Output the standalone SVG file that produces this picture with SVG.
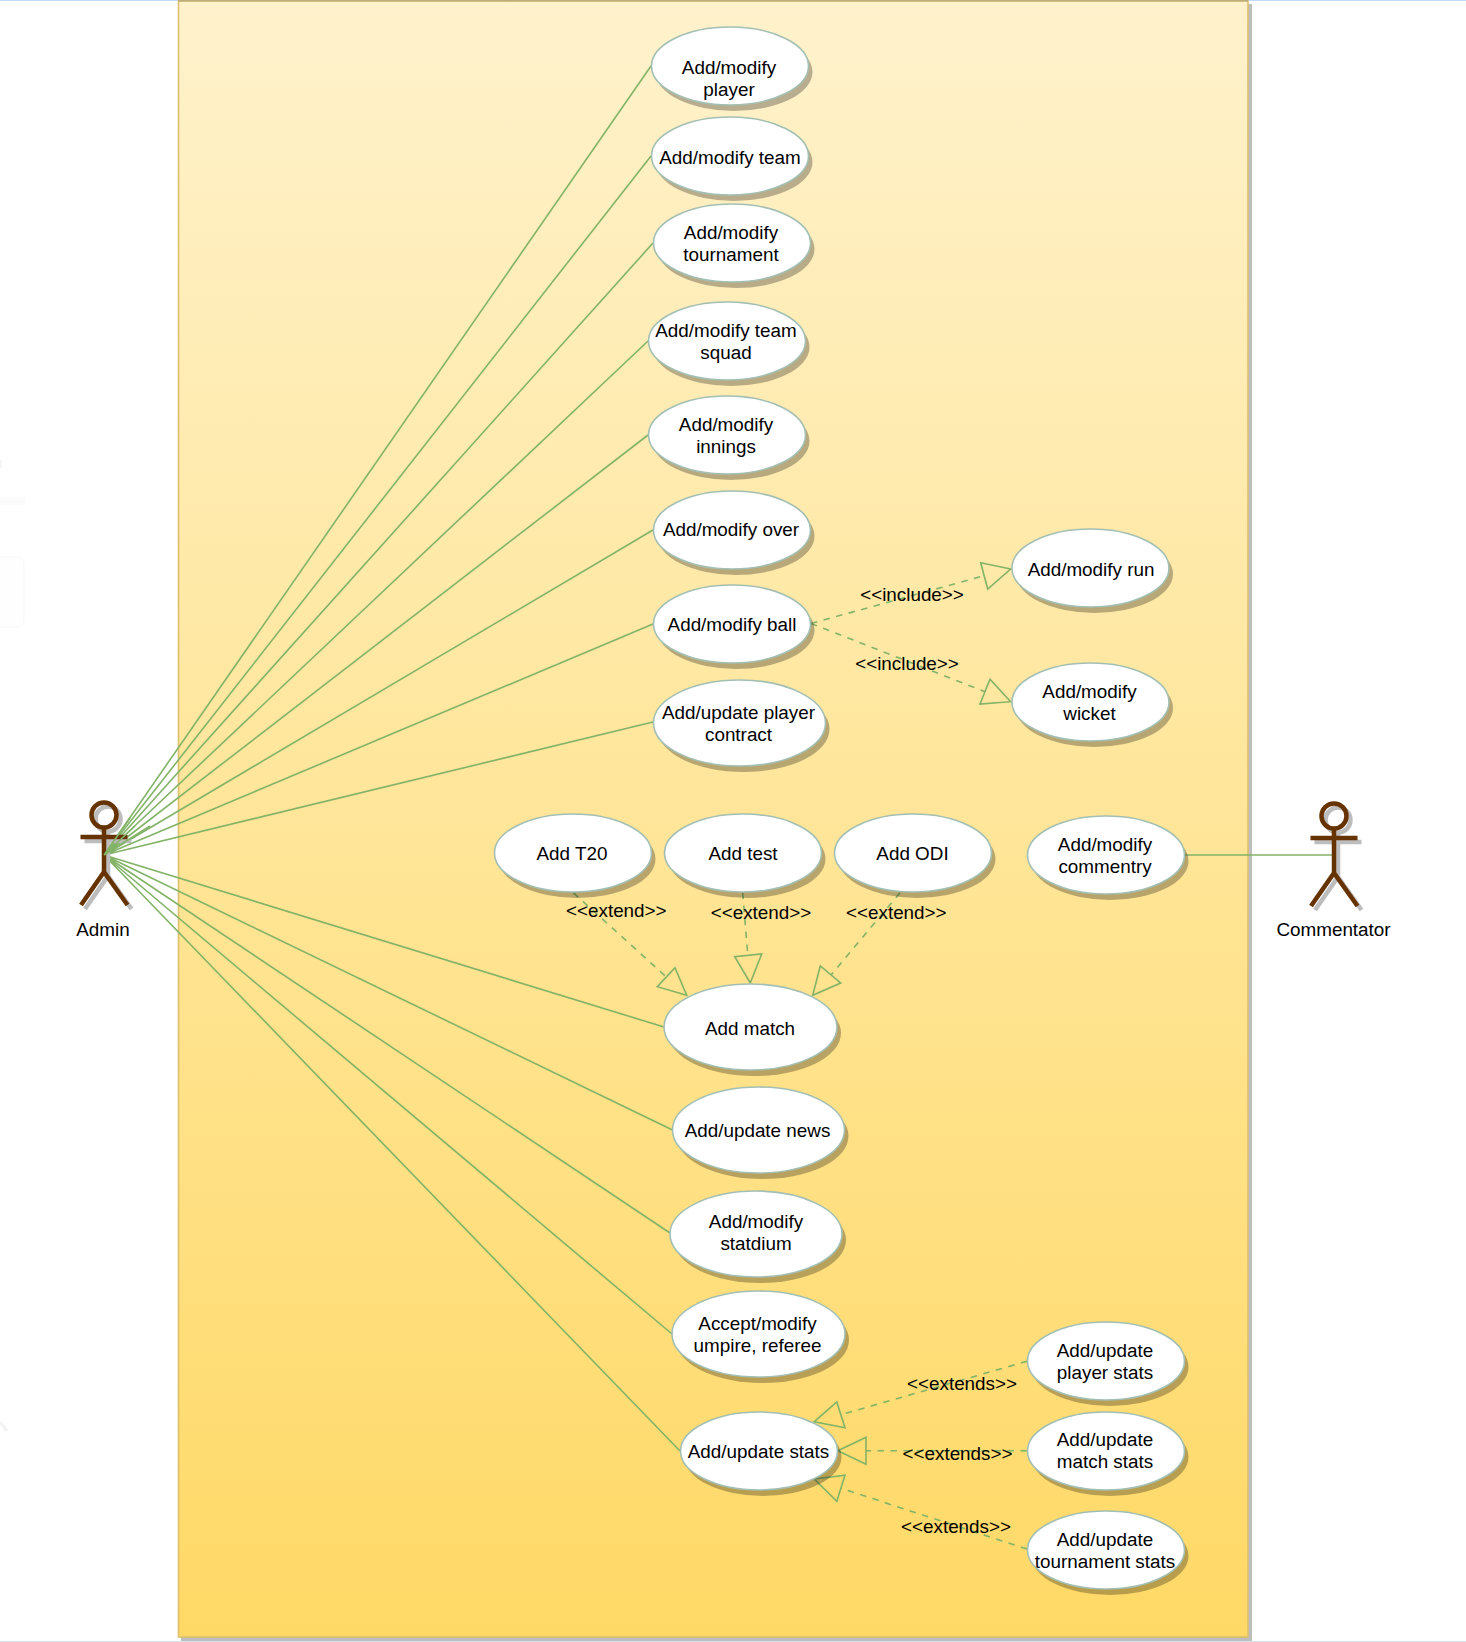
<svg xmlns="http://www.w3.org/2000/svg" width="1466" height="1642" viewBox="0 0 1466 1642">
<defs>
<linearGradient id="panelFill" x1="0" y1="0" x2="0" y2="1"><stop offset="0" stop-color="#fff2cc"/><stop offset="1" stop-color="#ffd966"/></linearGradient>
<g id="actorShape"><circle cx="0" cy="-40" r="12.500"/><path d="M0-27.500V17M-23.500-18H23.500M-23 50L0 17L23.500 50"/></g>
</defs>
<style>
text{font-family:"Liberation Sans",Arial,sans-serif;font-size:18.85px;fill:#000;text-anchor:middle}
.uc{fill:#fff;stroke:#a3bfb3;stroke-width:1.6}
.ucs{fill:#000;fill-opacity:.28}
.solid{fill:none;stroke:#82b366;stroke-width:1.6}
.dash{fill:none;stroke:#82b366;stroke-width:1.6;stroke-dasharray:6.500 6.500}
.tri{fill:none;stroke:#82b366;stroke-width:1.6;stroke-linejoin:miter}
.ash{fill:none;stroke:#bdbdbd;stroke-width:4.500}
.ac{fill:none;stroke:#663300;stroke-width:4.500}
</style>
<rect width="1466" height="1642" fill="#fff"/>
<rect x="0" y="0" width="1466" height="1" fill="#bfdbfe"/>
<rect x="0" y="1641" width="1466" height="1" fill="#d5e3f0"/>
<rect x="-8" y="557" width="32" height="70" rx="6" fill="#fefefe" stroke="#f8f8f8"/>
<rect x="0" y="460" width="2" height="8" fill="#f6f6f6"/>
<rect x="0" y="497" width="25" height="8" fill="#fbfbfb"/>
<path d="M0 1422L7 1431" stroke="#f3f3f3" stroke-width="3" fill="none"/>
<rect id="panelShadow" x="181" y="4" width="1071" height="1637" fill="#bdbdbd"/>
<rect id="panel" x="178.500" y="1" width="1069.500" height="1636" fill="url(#panelFill)" stroke="#dcc06c" stroke-width="1.600"/>
<rect x="178" y="0" width="1070" height="1.500" fill="#bcae7c"/>
<g id="connectors">
<path class="solid" d="M104 855L651 66M104 855L651 156M104 855L653 243M104 855L648 341M104 855L648 435M104 855L653 530M104 855L653 624M104 855L653 722M104 855L664 1027M104 855L672.500 1130M104 855L670 1233M104 855L672 1334M104 855L680 1451M1185 855H1334"/>
<path class="dash" d="M811 623.500L984 575.700M811 623.500L985 691.700M573.300 892.700L666 976.700M742.700 892.700L747.700 954.300M900 892.700L831 975M1027 1361.300L841 1414.700M1027 1450.700H866M1027 1549L841 1488.300"/>
<polygon class="tri" points="1010.700,569 980.700,562.700 987.700,589"/>
<polygon class="tri" points="1010.700,701.700 990,679.300 980,704"/>
<polygon class="tri" points="686.700,995.300 675,967.700 657.300,986.700"/>
<polygon class="tri" points="750.300,983 734.700,956.700 761.700,954"/>
<polygon class="tri" points="812.700,995.300 820.300,966 840.700,983"/>
<polygon class="tri" points="814.300,1421.700 836.800,1402 845,1427.700"/>
<polygon class="tri" points="837.900,1450.700 866,1437.300 866,1464.300"/>
<polygon class="tri" points="814.300,1479 845,1475.300 836.800,1501.300"/>
</g>
<g id="admin"><use href="#actorShape" x="108" y="859" class="ash"/><use href="#actorShape" x="104" y="855" class="ac"/><text x="103" y="936">Admin</text></g>
<g id="commentator"><use href="#actorShape" x="1338" y="860" class="ash"/><use href="#actorShape" x="1334" y="856" class="ac"/><text x="1333.500" y="936">Commentator</text></g>
<path class="solid" d="M104 855L130 818M104 855L135 826M104 855L150 826"/>
<g id="n1"><ellipse class="ucs" cx="734" cy="72" rx="78.500" ry="39"/><ellipse class="uc" cx="730" cy="66" rx="78.500" ry="39"/><text x="729" y="74">Add/modify</text><text x="729" y="96">player</text></g>
<g id="n2"><ellipse class="ucs" cx="734" cy="162" rx="78.500" ry="39"/><ellipse class="uc" cx="730" cy="156" rx="78.500" ry="39"/><text x="730" y="163.500">Add/modify team</text></g>
<g id="n3"><ellipse class="ucs" cx="736" cy="249" rx="78.500" ry="39"/><ellipse class="uc" cx="732" cy="243" rx="78.500" ry="39"/><text x="731" y="239">Add/modify</text><text x="731" y="261">tournament</text></g>
<g id="n4"><ellipse class="ucs" cx="731" cy="347" rx="78.500" ry="39"/><ellipse class="uc" cx="727" cy="341" rx="78.500" ry="39"/><text x="726" y="337">Add/modify team</text><text x="726" y="359">squad</text></g>
<g id="n5"><ellipse class="ucs" cx="731" cy="441" rx="78.500" ry="39"/><ellipse class="uc" cx="727" cy="435" rx="78.500" ry="39"/><text x="726" y="431">Add/modify</text><text x="726" y="453">innings</text></g>
<g id="n6"><ellipse class="ucs" cx="736" cy="536" rx="78.500" ry="39"/><ellipse class="uc" cx="732" cy="530" rx="78.500" ry="39"/><text x="731" y="536">Add/modify over</text></g>
<g id="n7"><ellipse class="ucs" cx="736" cy="630" rx="78.500" ry="39"/><ellipse class="uc" cx="732" cy="624" rx="78.500" ry="39"/><text x="732" y="631">Add/modify ball</text></g>
<g id="n8"><ellipse class="ucs" cx="743.500" cy="729" rx="86" ry="43"/><ellipse class="uc" cx="739.500" cy="723" rx="86" ry="43"/><text x="738.500" y="719">Add/update player</text><text x="738.500" y="741">contract</text></g>
<g id="n9"><ellipse class="ucs" cx="1094.500" cy="574" rx="78.500" ry="39"/><ellipse class="uc" cx="1090.500" cy="568" rx="78.500" ry="39"/><text x="1091" y="576">Add/modify run</text></g>
<g id="n10"><ellipse class="ucs" cx="1094.500" cy="708" rx="78.500" ry="39"/><ellipse class="uc" cx="1090.500" cy="702" rx="78.500" ry="39"/><text x="1089.500" y="698">Add/modify</text><text x="1089.500" y="720">wicket</text></g>
<g id="n11"><ellipse class="ucs" cx="577" cy="859" rx="78.500" ry="39"/><ellipse class="uc" cx="573" cy="853" rx="78.500" ry="39"/><text x="572" y="860">Add T20</text></g>
<g id="n12"><ellipse class="ucs" cx="747" cy="859" rx="78.500" ry="39"/><ellipse class="uc" cx="743" cy="853" rx="78.500" ry="39"/><text x="743" y="860">Add test</text></g>
<g id="n13"><ellipse class="ucs" cx="917" cy="859" rx="78.500" ry="39"/><ellipse class="uc" cx="913" cy="853" rx="78.500" ry="39"/><text x="912.500" y="860">Add ODI</text></g>
<g id="n14"><ellipse class="ucs" cx="1110" cy="861" rx="78.500" ry="39"/><ellipse class="uc" cx="1106" cy="855" rx="78.500" ry="39"/><text x="1105" y="851">Add/modify</text><text x="1105" y="873">commentry</text></g>
<g id="n15"><ellipse class="ucs" cx="754.500" cy="1033" rx="86.500" ry="43"/><ellipse class="uc" cx="750.500" cy="1027" rx="86.500" ry="43"/><text x="750" y="1035">Add match</text></g>
<g id="n16"><ellipse class="ucs" cx="762.500" cy="1136" rx="86" ry="43"/><ellipse class="uc" cx="758.500" cy="1130" rx="86" ry="43"/><text x="757.500" y="1136.500">Add/update news</text></g>
<g id="n17"><ellipse class="ucs" cx="760" cy="1240" rx="86" ry="43"/><ellipse class="uc" cx="756" cy="1234" rx="86" ry="43"/><text x="756" y="1228">Add/modify</text><text x="756" y="1250">statdium</text></g>
<g id="n18"><ellipse class="ucs" cx="762.500" cy="1340" rx="86.500" ry="43"/><ellipse class="uc" cx="758.500" cy="1334" rx="86.500" ry="43"/><text x="757.500" y="1330">Accept/modify</text><text x="757.500" y="1352">umpire, referee</text></g>
<g id="n19"><ellipse class="ucs" cx="763" cy="1457" rx="78.500" ry="39"/><ellipse class="uc" cx="759" cy="1451" rx="78.500" ry="39"/><text x="758.500" y="1458">Add/update stats</text></g>
<g id="n20"><ellipse class="ucs" cx="1110" cy="1367" rx="78.500" ry="39"/><ellipse class="uc" cx="1106" cy="1361" rx="78.500" ry="39"/><text x="1105" y="1357">Add/update</text><text x="1105" y="1379">player stats</text></g>
<g id="n21"><ellipse class="ucs" cx="1110" cy="1457" rx="78.500" ry="39"/><ellipse class="uc" cx="1106" cy="1451" rx="78.500" ry="39"/><text x="1105" y="1446">Add/update</text><text x="1105" y="1468">match stats</text></g>
<g id="n22"><ellipse class="ucs" cx="1110" cy="1556" rx="78.500" ry="39"/><ellipse class="uc" cx="1106" cy="1550" rx="78.500" ry="39"/><text x="1105" y="1546">Add/update</text><text x="1105" y="1568">tournament stats</text></g>
<g id="labels">
<text x="912" y="600.700">&lt;&lt;include&gt;&gt;</text>
<text x="907" y="670">&lt;&lt;include&gt;&gt;</text>
<text x="616.300" y="916.700">&lt;&lt;extend&gt;&gt;</text>
<text x="761" y="918.700">&lt;&lt;extend&gt;&gt;</text>
<text x="896.300" y="918.700">&lt;&lt;extend&gt;&gt;</text>
<text x="962" y="1390">&lt;&lt;extends&gt;&gt;</text>
<text x="957.500" y="1460">&lt;&lt;extends&gt;&gt;</text>
<text x="956" y="1532.700">&lt;&lt;extends&gt;&gt;</text>
</g>
</svg>
